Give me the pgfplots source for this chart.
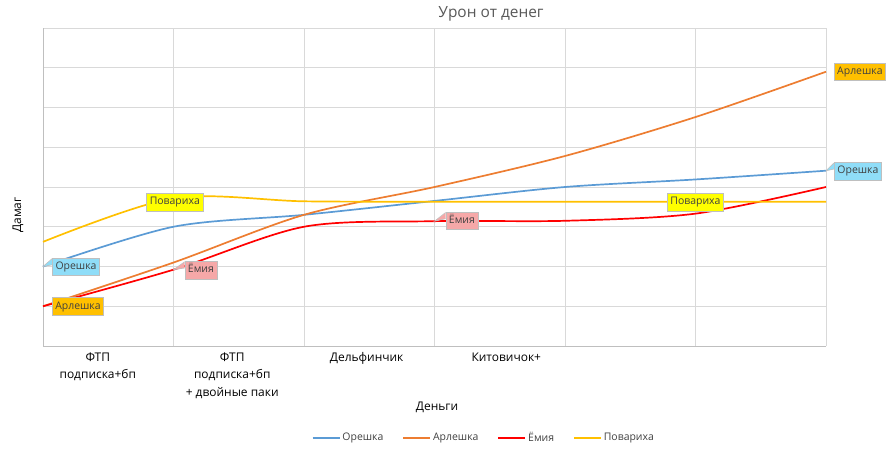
\documentclass[border=0pt]{standalone}
\usepackage{pgfplots}
\pgfplotsset{compat=1.18}
\usepackage{fontspec}
\setmainfont{Open Sans}
\definecolor{cblue}{HTML}{5B9BD5}
\definecolor{corange}{HTML}{ED7D31}
\definecolor{cred}{HTML}{FF0000}
\definecolor{cyellow}{HTML}{FFC000}
\definecolor{gridc}{HTML}{D9D9D9}
\definecolor{axc}{HTML}{BFBFBF}
\definecolor{txtc}{HTML}{404040}
\definecolor{titc}{HTML}{595959}
\definecolor{lblue}{HTML}{8FDDF8}
\definecolor{lpink}{HTML}{F6A8A8}
\definecolor{lyellow}{HTML}{FFFF00}
\definecolor{lorange}{HTML}{FFC000}
\tikzset{dl/.style={draw=axc, line width=0.6bp, inner xsep=3bp, inner ysep=3.5bp, text=txtc, font=\fontsize{10.5}{12}\selectfont, text height=8bp, text depth=2.5bp}}
\newcommand{\callout}[3]{%
  \fill[#1] ([yshift=-1bp]#2.north west) -- #3 -- ([yshift=-7bp]#2.north west) -- cycle;
  \draw[axc, line width=0.6bp] ([yshift=-0.7bp]#2.north west) -- #3 -- ([yshift=-7bp]#2.north west);
}
\begin{document}
\begin{tikzpicture}[x=1bp,y=1bp]
\begin{axis}[
  at={(0,0)}, anchor=south west, scale only axis,
  width=783bp, height=318bp,
  xmin=0, xmax=6, ymin=0, ymax=8,
  clip=false,
  axis x line*=bottom, axis y line*=left,
  axis line style={draw=axc, line width=0.8bp, -},
  xtick={0.42,1.45,2.48,3.55},
  xticklabels={{ФТП\\подписка+бп},{ФТП\\подписка+бп\\+ двойные паки},{Дельфинчик},{Китовичок+}},
  xticklabel style={align=center, anchor=north, font=\fontsize{12}{17.5}\selectfont, text=black, yshift=-3bp},
  minor xtick={0,1,2,3,4,5,6},
  xminorgrids, xmajorgrids=false,
  ytick={0,1,...,8}, yticklabels={}, ymajorgrids,
  major tick length=0pt, minor tick length=0pt,
  grid style={draw=gridc, line width=0.75bp},
  minor grid style={draw=gridc, line width=0.75bp},
  every axis plot/.append style={line width=1.7bp, smooth, no markers},
  legend style={at={(0.563,-0.289)}, anchor=center, draw=none, fill=none,
    font=\fontsize{10.5}{12}\selectfont, text=txtc,
    /tikz/every even column/.append style={column sep=17bp}},
  legend columns=4,
  legend image code/.code={\draw[#1, line width=1.7bp] (0bp,0bp) -- (27bp,0bp);},
]
\addplot[cblue] coordinates {(0,2.0) (1,3.0) (2,3.3) (3,3.65) (4,4.0) (5,4.19) (6,4.41)};
\addlegendentry{Орешка}
\addplot[corange] coordinates {(0,1.0) (1,2.1) (2,3.3) (3,4.0) (4,4.78) (5,5.76) (6,6.9)};
\addlegendentry{Арлешка}
\addplot[cred] coordinates {(0,1.0) (1,1.92) (2,3.0) (3,3.14) (4,3.15) (5,3.33) (6,4.0)};
\addlegendentry{Ёмия}
\addplot[cyellow] coordinates {(0,2.62) (1,3.72) (2,3.64) (3,3.63) (4,3.63) (5,3.63) (6,3.63)};
\addlegendentry{Повариха}

\node[dl, fill=lblue] (o1) at (axis cs:0.253,1.99) {Орешка};
\callout{lblue}{o1}{(axis cs:0,2.0)}
\node[dl, fill=lorange] at (axis cs:0.268,1.0) {Арлешка};
\node[dl, fill=lpink] (e1) at (axis cs:1.21,1.91) {Ёмия};
\callout{lpink}{e1}{(axis cs:1.0,1.92)}
\node[dl, fill=lyellow] at (axis cs:1.01,3.62) {Повариха};
\node[dl, fill=lpink] (e2) at (axis cs:3.21,3.15) {Ёмия};
\callout{lpink}{e2}{(axis cs:3.0,3.14)}
\node[dl, fill=lyellow] at (axis cs:5.0,3.62) {Повариха};
\node[dl, fill=lorange] at (axis cs:6.26,6.9) {Арлешка};
\node[dl, fill=lblue] (o2) at (axis cs:6.245,4.4) {Орешка};
\callout{lblue}{o2}{(axis cs:6.0,4.41)}
\end{axis}
\node[text=titc, font=\fontsize{15.5}{18}\selectfont] at (448bp,332bp) {Урон от денег};
\node[text=black, font=\fontsize{12}{14}\selectfont] at (394bp,-61bp) {Деньги};
\node[text=black, font=\fontsize{12}{14}\selectfont, rotate=90] at (-25bp,131bp) {Дамаг};
\pgfresetboundingbox
\path (-43bp,-105bp) rectangle (845bp,346bp);
\end{tikzpicture}
\end{document}
